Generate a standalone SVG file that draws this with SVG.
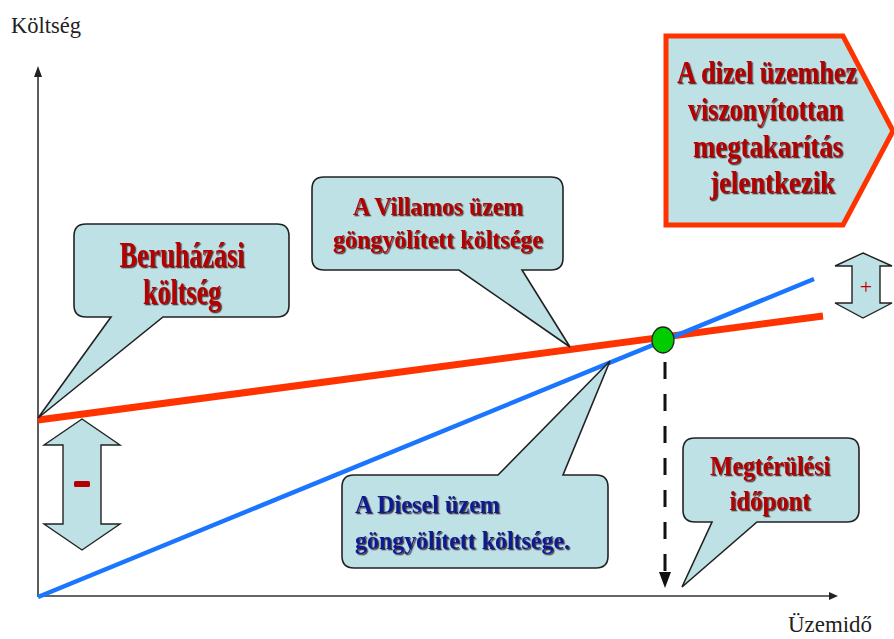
<svg xmlns="http://www.w3.org/2000/svg" width="894" height="639" viewBox="0 0 894 639">
<defs>
<style>
.callout{fill:#bde1e4;stroke:#222;stroke-width:1.6;stroke-linejoin:miter}
.dbl{fill:#bde1e4;stroke:#222;stroke-width:1.4}
.axis{stroke:#333;stroke-width:1.6;fill:none}
.lbl{font-family:"Liberation Serif","Times New Roman",serif;font-size:24px;fill:#222}
.red{font-family:"Liberation Serif","Times New Roman",serif;font-weight:bold;fill:#b30000;filter:url(#sh)}
.blue{font-family:"Liberation Serif","Times New Roman",serif;font-weight:bold;fill:#0b1c8c;filter:url(#sh)}
</style>
<filter id="sh" x="-10%" y="-30%" width="120%" height="160%">
<feDropShadow dx="1.3" dy="1.3" stdDeviation="0.4" flood-color="#2a0000" flood-opacity="0.75"/>
</filter>
</defs>
<rect width="894" height="639" fill="#fff"/>

<g id="connectors">
<line class="axis" x1="38" y1="597" x2="38" y2="74"/>
<polygon points="34,77 42,77 38,66" fill="#222"/>
<line class="axis" x1="38" y1="596" x2="830" y2="596"/>
<polygon points="829,592 829,600 838,596" fill="#222"/>
<line x1="38" y1="420" x2="823" y2="316" stroke="#ff3300" stroke-width="7"/>
<line x1="38" y1="597" x2="814" y2="279" stroke="#1a75ff" stroke-width="4.5"/>
<line x1="665" y1="362" x2="665" y2="574" stroke="#111" stroke-width="3" stroke-dasharray="17 15"/>
<polygon points="659,572 671,572 665,588" fill="#111"/>
</g>

<g id="title-y"><text class="lbl" x="11" y="33" font-size="25" textLength="70" lengthAdjust="spacingAndGlyphs">Költség</text></g>
<g id="title-x"><text class="lbl" x="788" y="632" font-size="25" textLength="84" lengthAdjust="spacingAndGlyphs">Üzemidő</text></g>

<g id="beruhazasi">
<path class="callout" d="M86,224 H277 Q289,224 289,236 V305 Q289,317 277,317 H163 L38,418 L111,317 H86 Q74,317 74,305 V236 Q74,224 86,224 Z"/>
<text class="red" x="182" y="267" font-size="35" text-anchor="middle" textLength="125" lengthAdjust="spacingAndGlyphs">Beruházási</text>
<text class="red" x="182" y="304" font-size="35" text-anchor="middle" textLength="78" lengthAdjust="spacingAndGlyphs">költség</text>
</g>

<g id="villamos">
<path class="callout" d="M324,177 H551 Q563,177 563,189 V258 Q563,270 551,270 H522 L570,347 L459,270 H324 Q312,270 312,258 V189 Q312,177 324,177 Z"/>
<text class="red" x="438" y="215" font-size="26" text-anchor="middle" textLength="170" lengthAdjust="spacingAndGlyphs">A Villamos üzem</text>
<text class="red" x="438" y="248" font-size="26" text-anchor="middle" textLength="210" lengthAdjust="spacingAndGlyphs">göngyölített költsége</text>
</g>

<g id="diesel">
<path class="callout" d="M354,475 H498 L610,361 L563,475 H596 Q608,475 608,487 V556 Q608,568 596,568 H354 Q342,568 342,556 V487 Q342,475 354,475 Z"/>
<text class="blue" x="355" y="513" font-size="26" textLength="145" lengthAdjust="spacingAndGlyphs">A Diesel üzem</text>
<text class="blue" x="355" y="549" font-size="26" textLength="215" lengthAdjust="spacingAndGlyphs">göngyölített költsége.</text>
</g>

<g id="megterulesi">
<path class="callout" d="M695,438 H847 Q859,438 859,450 V510 Q859,522 847,522 H757 L682,587 L712,522 H695 Q683,522 683,510 V450 Q683,438 695,438 Z"/>
<text class="red" x="770" y="475" font-size="27" text-anchor="middle" textLength="120" lengthAdjust="spacingAndGlyphs">Megtérülési</text>
<text class="red" x="770" y="510" font-size="27" text-anchor="middle" textLength="81" lengthAdjust="spacingAndGlyphs">időpont</text>
</g>

<g id="megtakaritas">
<path d="M666,36 H843 L893,131 L843,225 H666 Z" fill="#bde1e4" stroke="#ff3300" stroke-width="5" stroke-linejoin="miter"/>
<text class="red" x="677" y="83" font-size="31" textLength="180" lengthAdjust="spacingAndGlyphs">A dizel üzemhez</text>
<text class="red" x="688" y="120" font-size="31" textLength="155" lengthAdjust="spacingAndGlyphs">viszonyítottan</text>
<text class="red" x="693" y="157" font-size="31" textLength="150" lengthAdjust="spacingAndGlyphs">megtakarítás</text>
<text class="red" x="710" y="193" font-size="31" textLength="125" lengthAdjust="spacingAndGlyphs">jelentkezik</text>
</g>

<g id="minus-arrow">
<path class="dbl" d="M82,419 L120,445 H101 V524 H120 L82,550 L44,524 H63 V445 H44 Z"/>
<rect x="74" y="481" width="16" height="6" rx="1.5" fill="#b30000"/>
</g>

<g id="plus-arrow">
<path class="dbl" d="M863,253 L892,266 H880 V303 H892 L863,318 L835,303 H852 V266 H835 Z"/>
<text x="866" y="294" font-family="Liberation Serif, serif" font-size="22" fill="#c00000" text-anchor="middle">+</text>
</g>

<g id="breakeven">
<ellipse cx="663" cy="340" rx="11" ry="13" fill="#00cc00" stroke="#222" stroke-width="1.3"/>
</g>
</svg>
